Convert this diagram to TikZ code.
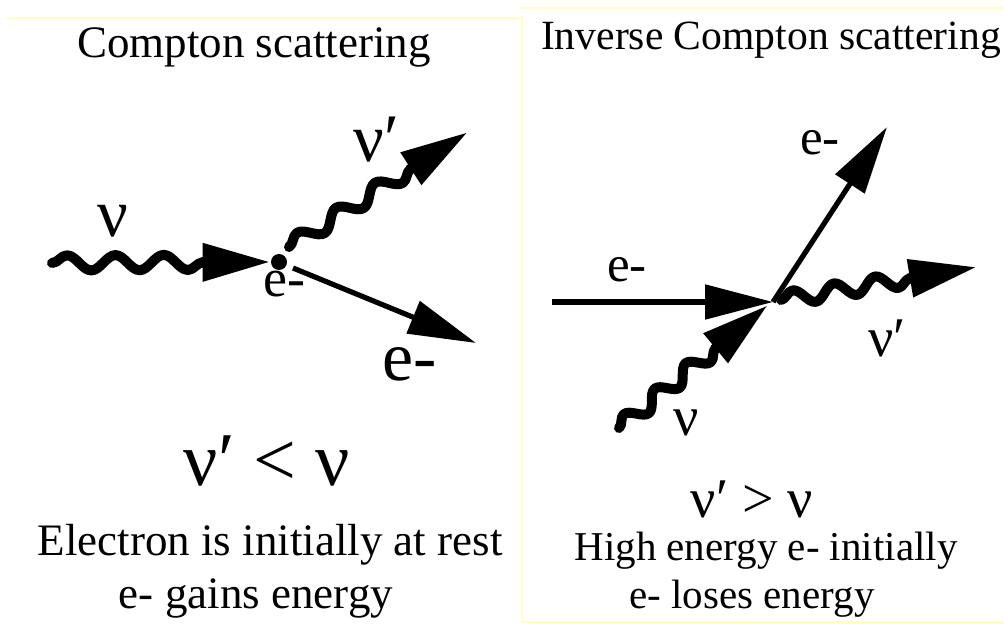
\documentclass[tikz,border=0pt]{standalone}
\usepackage{fontspec}
\setmainfont{Liberation Serif}
\usetikzlibrary{arrows.meta,decorations.pathmorphing,calc}
\newcommand\fsz[1]{\fontsize{#1}{#1}\selectfont}
\definecolor{paleyel}{RGB}{255,255,195}
\begin{document}
\begin{tikzpicture}[x=0.5pt,y=-0.5pt,
  wave/.style={line width=5pt, line cap=round, line join=round, decorate,
    decoration={snake, amplitude=3.8pt, segment length=#1}},
  whead/.style={line width=5pt, -{Triangle[length=34pt,width=18pt]}},
  eline/.style={line width=2.6pt, -{Triangle[length=34pt,width=17pt]}},
  frame/.style={draw=paleyel, line width=1pt},
  lbl/.style={inner sep=0pt, anchor=base},
]
\useasboundingbox (0,0) rectangle (1004,624);
% frames
\draw[frame] (9,18) -- (522,18) -- (522,622);
\draw[frame] (522,8) -- (1004,8);
\draw[frame] (522,622) -- (1004,622);
% titles
\node[lbl, font=\fsz{22.5}] (t1) at (254,58) {Compton scattering};
\node[lbl, font=\fsz{20.8}] (t2) at (771,50) {Inverse Compton scattering};
% left diagram
\node[circle, fill, inner sep=0pt, minimum size=8pt] (dot) at (279,262) {};
\coordinate (inL) at (52,263);
\coordinate (outPL) at (289,247);
\coordinate (tipPL) at (468,132);
\coordinate (outEL) at (293,268);
\coordinate (tipEL) at (476,343);
\coordinate (bInL) at ($(dot.west)!34pt!(inL)$);
\coordinate (eInL) at ($(bInL)!6pt!(dot.west)$);
\coordinate (bPL) at ($(tipPL)!34pt!(outPL)$);
\coordinate (ePL) at ($(bPL)!5.8pt!(tipPL)$);
\draw[wave=24.16pt] (inL) -- (eInL);
\draw[whead] ($(dot.west)!35pt!(inL)$) -- (dot.west);
\draw[wave=23.16pt] (outPL) -- (ePL);
\draw[whead] ($(tipPL)!35pt!(outPL)$) -- (tipPL);
\draw[eline] (outEL) -- (tipEL);
\node[lbl, font=\fsz{34}] (nuL) at (113,237) {ν};
\node[lbl, anchor=base west, font=\fsz{34}] (nupL) at (353,162) {ν′};
\node[lbl, font=\fsz{27}] (eDot) at (284,297) {e-};
\node[lbl, font=\fsz{35}] (eOutL) at (410,380) {e-};
\node[lbl, font=\fsz{38}] (relL) at (267,485) {ν′ < ν};
\node[lbl, font=\fsz{22.5}] (d1) at (270,555) {Electron is initially at rest};
\node[lbl, font=\fsz{22.5}] (d2) at (256,608) {e- gains energy};
% right diagram
\coordinate (R) at (773,302);
\coordinate (inER) at (552,302);
\coordinate (tipER) at (887,127);
\coordinate (outPR) at (781,300);
\coordinate (tipPR) at (977,267);
\coordinate (inPR) at (619,428);
\coordinate (tipPin) at (768,305);
\coordinate (bPR) at ($(tipPR)!34pt!(outPR)$);
\coordinate (ePR) at ($(bPR)!5.2pt!(tipPR)$);
\coordinate (bPin) at ($(tipPin)!34pt!(inPR)$);
\coordinate (ePin) at ($(bPin)!5pt!(tipPin)$);
\draw[eline] (inER) -- (R);
\draw[eline] (R) -- (tipER);
\draw[wave=20.92pt] (outPR) -- (ePR);
\draw[whead] ($(tipPR)!35pt!(outPR)$) -- (tipPR);
\draw[wave=20.03pt] (inPR) -- (ePin);
\draw[whead] ($(tipPin)!35pt!(inPR)$) -- (tipPin);
\node[lbl, font=\fsz{25.5}] (eInR) at (627,282) {e-};
\node[lbl, font=\fsz{25.5}] (eOutR) at (820,155) {e-};
\node[lbl, anchor=base west, font=\fsz{28}] (nupR) at (868,357) {ν′};
\node[lbl, font=\fsz{28}] (nuR) at (686,435) {ν};
\node[lbl, font=\fsz{28}] (relR) at (752,517) {ν′ > ν};
\node[lbl, font=\fsz{20.5}] (d3) at (766,560) {High energy e- initially};
\node[lbl, font=\fsz{20.5}] (d4) at (752,608) {e- loses energy};
\end{tikzpicture}
\end{document}
